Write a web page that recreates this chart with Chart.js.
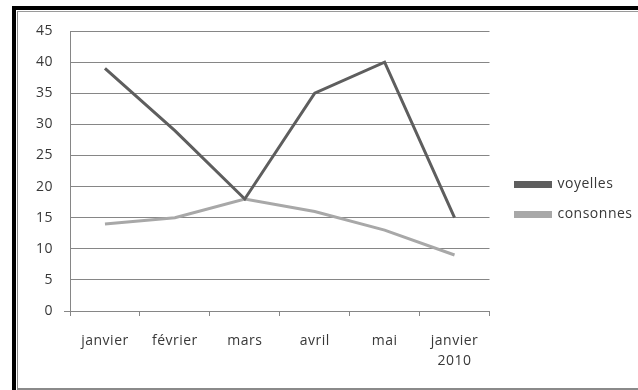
<!DOCTYPE html>
<html><head><meta charset="utf-8">
<script src="https://cdn.jsdelivr.net/npm/chart.js@4/dist/chart.umd.min.js"></script>
<style>
html,body{margin:0;padding:0;background:#fff;width:638px;height:390px;overflow:hidden;}
#outer{position:absolute;left:12px;top:6px;width:626px;height:384px;border-left:4px solid #000;border-top:4px solid #000;box-sizing:border-box;}
#inner{position:absolute;left:17px;top:11px;width:621px;height:379px;border-left:1px solid #8a8a8a;border-top:1px solid #9a9a9a;border-bottom:2px solid #8a8a8a;box-sizing:border-box;}
#c{position:absolute;left:18px;top:12px;}
</style></head>
<body>
<div id="outer"></div><div id="inner"></div>
<canvas id="c" width="620" height="376"></canvas>
<script>
const categories = ['janvier', 'février', 'mars', 'avril', 'mai', ['janvier', '2010']];
const voyelles = [39, 29, 18, 35, 40, 15];
const consonnes = [14, 15, 18, 16, 13, 9];
const yTicks = [0, 5, 10, 15, 20, 25, 30, 35, 40, 45];

const spacing = {
  id: 'spacing',
  beforeUpdate(c) { c.ctx.letterSpacing = '0.5px'; },
  beforeDraw(c) { c.ctx.letterSpacing = '0.5px'; },
  afterLayout(c) { if (c.legend) { c.legend.left += 10; c.legend.right += 10; } }
};

const font = { family: "'Open Sans'", size: 14 };
new Chart(document.getElementById('c'), {
  type: 'line',
  data: {
    labels: categories,
    datasets: [
      { label: 'voyelles', data: voyelles, borderColor: '#5e5e5e', backgroundColor: '#5e5e5e', borderWidth: 3, pointRadius: 0, tension: 0 },
      { label: 'consonnes', data: consonnes, borderColor: '#a8a8a8', backgroundColor: '#a8a8a8', borderWidth: 3, pointRadius: 0, tension: 0 }
    ]
  },
  options: {
    responsive: false,
    animation: false,
    layout: { padding: { top: 19, bottom: 20, left: 0, right: 5.5 } },
    plugins: {
      legend: {
        position: 'right',
        labels: { boxWidth: 35, boxHeight: 4, padding: 16, color: '#383838', font: font }
      },
      tooltip: { enabled: false }
    },
    scales: {
      x: {
        offset: true,
        grid: { offset: true, drawOnChartArea: false, drawTicks: true, tickLength: 5, color: '#868686' },
        border: { color: '#868686' },
        ticks: { color: '#383838', font: Object.assign({ lineHeight: 1.43 }, font), padding: 15, maxRotation: 0, autoSkip: false },
        afterFit(s) { s.height = 57; }
      },
      y: {
        min: 0, max: 45,
        afterBuildTicks(s) { s.ticks = yTicks.map(v => ({ value: v })); },
        grid: {
          color: '#868686', drawTicks: true, tickLength: 6,
          tickColor: (ctx) => (ctx.tick && ctx.tick.value === 0) ? '#868686' : 'rgba(0,0,0,0)'
        },
        border: { color: '#868686' },
        ticks: { color: '#383838', font: font, padding: 11 },
        afterFit(s) { s.width = 52; s.paddingTop = 0; s.paddingBottom = 0; }
      }
    }
  },
  plugins: [spacing]
});
</script>
</body></html>
